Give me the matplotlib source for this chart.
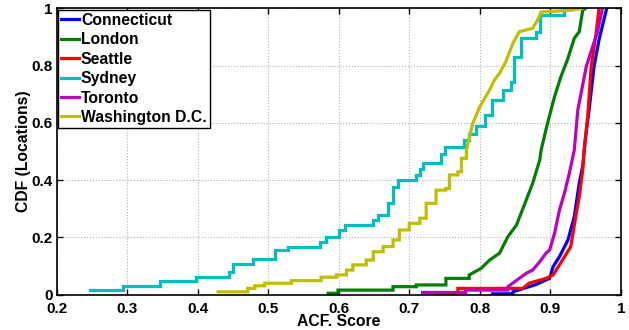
import matplotlib
matplotlib.use("Agg")
import matplotlib.pyplot as plt

plt.rcParams['font.family'] = ['Liberation Sans', 'DejaVu Sans']
plt.rcParams['font.weight'] = 'bold'

names = ["Connecticut", "London", "Seattle", "Sydney", "Toronto", "Washington D.C."]
colors = ["#0000ff", "#008000", "#ff0000", "#00bfbf", "#bf00bf", "#bfbf00"]

conn_x = [0.818, 0.847, 0.878, 0.899, 0.904, 0.913, 0.925, 0.934, 0.941, 0.946, 0.950, 0.955, 0.962, 0.969, 0.980]
conn_y = [0.003, 0.010, 0.034, 0.057, 0.098, 0.133, 0.191, 0.272, 0.389, 0.450, 0.550, 0.645, 0.796, 0.889, 1.000]

lond_x = [0.585, 0.599, 0.677, 0.710, 0.752, 0.785, 0.802, 0.814, 0.828, 0.840, 0.852, 0.866, 0.875,
          0.885, 0.887, 0.896, 0.906, 0.915, 0.925, 0.934, 0.941, 0.946, 0.950]
lond_y = [0.005, 0.016, 0.028, 0.034, 0.057, 0.069, 0.092, 0.121, 0.145, 0.203, 0.243, 0.331, 0.389,
          0.470, 0.505, 0.598, 0.691, 0.761, 0.825, 0.895, 0.918, 0.993, 1.000]

seat_x = [0.738, 0.769, 0.861, 0.870, 0.894, 0.904, 0.913, 0.929, 0.936, 0.941, 0.946, 0.948, 0.953, 0.958, 0.965, 0.969]
seat_y = [0.005, 0.022, 0.022, 0.040, 0.057, 0.069, 0.104, 0.168, 0.272, 0.342, 0.435, 0.505, 0.621, 0.796, 0.912, 1.000]

syd_x = [0.248, 0.294, 0.346, 0.398, 0.444, 0.450, 0.478, 0.510, 0.528, 0.574, 0.582, 0.600, 0.609,
         0.648, 0.655, 0.670, 0.677, 0.684, 0.710, 0.715, 0.720, 0.745, 0.750, 0.778, 0.785, 0.795,
         0.807, 0.818, 0.833, 0.844, 0.849, 0.859, 0.880, 0.885, 0.920]
syd_y = [0.016, 0.031, 0.047, 0.063, 0.080, 0.106, 0.125, 0.156, 0.168, 0.185, 0.200, 0.225, 0.243,
         0.260, 0.278, 0.320, 0.377, 0.400, 0.418, 0.440, 0.460, 0.490, 0.517, 0.540, 0.560, 0.590,
         0.627, 0.680, 0.715, 0.743, 0.831, 0.895, 0.918, 0.976, 1.000]

tor_x = [0.719, 0.780, 0.840, 0.856, 0.866, 0.875, 0.885, 0.894, 0.899, 0.906, 0.913, 0.920, 0.927,
         0.934, 0.939, 0.945, 0.951, 0.960, 0.967, 0.974]
tor_y = [0.008, 0.016, 0.028, 0.057, 0.075, 0.086, 0.115, 0.145, 0.156, 0.214, 0.296, 0.354, 0.424,
         0.505, 0.645, 0.720, 0.796, 0.866, 0.918, 1.000]

wash_x = [0.429, 0.471, 0.481, 0.495, 0.533, 0.575, 0.597, 0.611, 0.620, 0.639, 0.649, 0.663, 0.677,
          0.686, 0.700, 0.715, 0.724, 0.738, 0.752, 0.757, 0.769, 0.774, 0.781, 0.790, 0.800, 0.814,
          0.821, 0.828, 0.837, 0.847, 0.856, 0.875, 0.882, 0.887, 0.929, 0.945]
wash_y = [0.010, 0.022, 0.031, 0.040, 0.049, 0.061, 0.069, 0.086, 0.104, 0.121, 0.150, 0.168, 0.191,
          0.226, 0.249, 0.267, 0.319, 0.365, 0.371, 0.418, 0.429, 0.476, 0.505, 0.598, 0.656, 0.715,
          0.750, 0.773, 0.814, 0.878, 0.918, 0.930, 0.959, 0.987, 0.993, 1.000]

# number of leading points drawn as a staircase (the rest are joined directly)
step_counts = [2, 6, 3, len(syd_x), 3, 23]

series = [(conn_x, conn_y), (lond_x, lond_y), (seat_x, seat_y),
          (syd_x, syd_y), (tor_x, tor_y), (wash_x, wash_y)]

xticks = [0.2, 0.3, 0.4, 0.5, 0.6, 0.7, 0.8, 0.9, 1.0]
xticklabels = ["0.2", "0.3", "0.4", "0.5", "0.6", "0.7", "0.8", "0.9", "1"]
yticks = [0, 0.2, 0.4, 0.6, 0.8, 1.0]
yticklabels = ["0", "0.2", "0.4", "0.6", "0.8", "1"]


def cdf_path(xs, ys, k):
    vx, vy = [xs[0]], [ys[0]]
    for i in range(1, len(xs)):
        if i < k:
            vx.append(xs[i])
            vy.append(ys[i - 1])
        vx.append(xs[i])
        vy.append(ys[i])
    return vx, vy


fig = plt.figure(figsize=(6.29, 3.30), dpi=100)
ax = fig.add_axes([0.090, 0.107, 0.897, 0.868])

for (xs, ys), k, name, c in zip(series, step_counts, names, colors):
    vx, vy = cdf_path(xs, ys, k)
    ax.plot(vx, vy, color=c, lw=2.3, label=name, solid_joinstyle='miter')

ax.set_xlim(0.2, 1.0)
ax.set_ylim(0, 1.0)
ax.set_xticks(xticks)
ax.set_xticklabels(xticklabels)
ax.set_yticks(yticks)
ax.set_yticklabels(yticklabels)
ax.tick_params(direction='in', top=True, right=True, labelsize=11, length=4, width=1)
ax.tick_params(axis='x', pad=5)
ax.tick_params(axis='y', pad=3)
for lab in ax.get_xticklabels() + ax.get_yticklabels():
    lab.set_fontweight('bold')
ax.grid(True, linestyle=':', color='#b0b0b0', linewidth=0.8)
for s in ax.spines.values():
    s.set_linewidth(1.2)

ax.set_xlabel("ACF. Score", fontsize=11.3, fontweight='bold', labelpad=-1)
ax.set_ylabel("CDF (Locations)", fontsize=11.3, fontweight='bold', labelpad=0)

leg = ax.legend(loc='upper left', frameon=True, fancybox=False,
                handlelength=1.1, handletextpad=0.15, borderpad=0.2, labelspacing=0.28,
                borderaxespad=0.1, prop={'weight': 'bold', 'size': 11.3})
leg.get_frame().set_edgecolor('black')
leg.get_frame().set_linewidth(1.0)
leg.get_frame().set_alpha(1)

fig.savefig("out.png", dpi=100)
